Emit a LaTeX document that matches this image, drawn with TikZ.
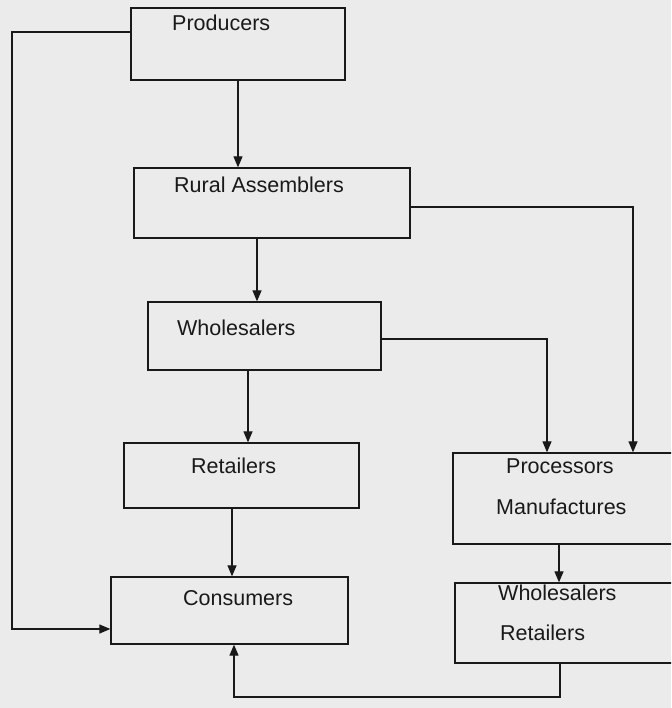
\documentclass[tikz,border=0pt]{standalone}
\usepackage{fontspec}
\setmainfont{Liberation Sans}
\usetikzlibrary{arrows.meta}
\definecolor{paper}{RGB}{236,235,235}
\definecolor{ink}{RGB}{25,25,25}
\begin{document}
\begin{tikzpicture}[x=1pt,y=-1pt,
 box/.style={draw=ink, line width=1.3pt, rectangle, inner sep=0pt},
 lbl/.style={inner sep=0pt, anchor=base west, font=\fontsize{21.5}{25}\selectfont, text=ink},
 arr/.style={draw=ink, line width=1.2pt, -{Triangle[length=11pt,width=9pt]}},
 ln/.style={draw=ink, line width=1.2pt}]
\fill[paper] (0,0) rectangle (671,708);
\useasboundingbox (0,0) rectangle (671,708);
\begin{scope}
\clip (0,0) rectangle (671,708);
% boxes
\node[box, minimum width=214pt, minimum height=72pt] (prod) at (238,44) {};
\node[box, minimum width=276pt, minimum height=70pt] (rural) at (272,203) {};
\node[box, minimum width=233pt, minimum height=68pt] (whole) at (264.5,336) {};
\node[box, minimum width=235pt, minimum height=65pt] (retail) at (241.5,475.5) {};
\node[box, minimum width=237pt, minimum height=67pt] (cons) at (229.5,610.5) {};
\node[box, minimum width=237pt, minimum height=91pt] (proc) at (571.5,498.5) {};
\node[box, minimum width=235pt, minimum height=80pt] (wr) at (572.5,623) {};
% labels
\node[lbl] (tprod) at (172,31) {Producers};
\node[lbl] (trural) at (174,193) {Rural Assemblers};
\node[lbl] (twhole) at (177,335) {Wholesalers};
\node[lbl] (tretail) at (191,473) {Retailers};
\node[lbl] (tcons) at (183,605) {Consumers};
\node[lbl] (tproc) at (506,473) {Processors};
\node[lbl] (tmanu) at (496,514) {Manufactures};
\node[lbl] (twr1) at (498,600) {Wholesalers};
\node[lbl] (twr2) at (500,640) {Retailers};
% helper coordinates
\coordinate (lc1) at (12,32);
\coordinate (lc2) at (12,629);
\coordinate (bc1) at (560,697);
\coordinate (bc2) at (234,697);
% connectors
\draw[arr] (prod.south) -- (rural.north -| prod.south);
\draw[arr] (rural.south -| 257,0) -- (whole.north -| 257,0);
\draw[arr] (whole.south -| 248,0) -- (retail.north -| 248,0);
\draw[arr] (retail.south -| 232,0) -- (cons.north -| 232,0);
\draw[arr] (proc.south -| 559,0) -- (wr.north -| 559,0);
\draw[arr] ([yshift=-4pt]rural.east) -| (proc.north -| 633,0);
\draw[arr] ([yshift=-3pt]whole.east) -| (proc.north -| 547,0);
\draw[arr] ([yshift=12pt]prod.west) -- (lc1) -- (lc2) -- (cons.west |- lc2);
\draw[arr] (wr.south -| bc1) -- (bc1) -- (bc2) -- (cons.south -| bc2);
\end{scope}
\end{tikzpicture}
\end{document}
